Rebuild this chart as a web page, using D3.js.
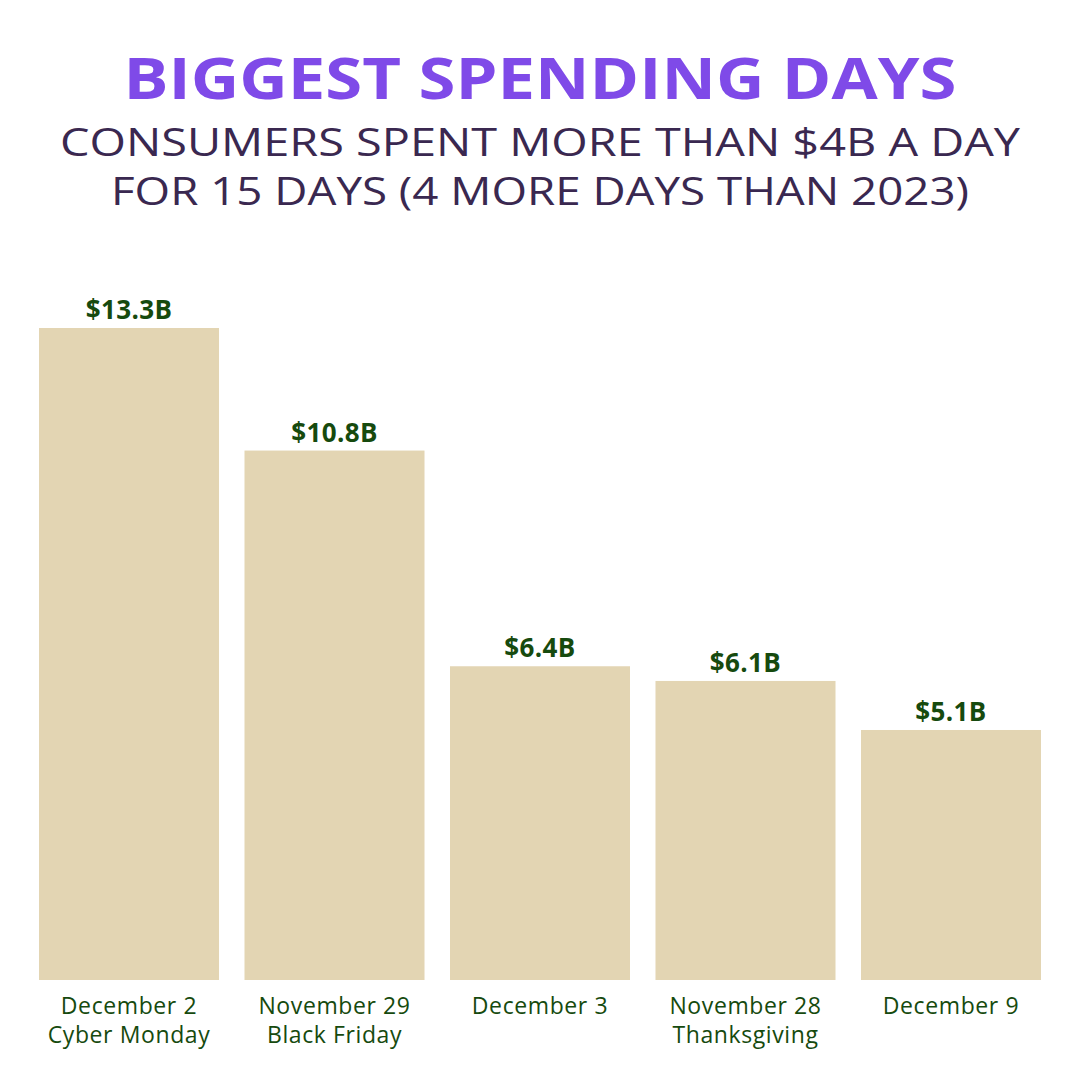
<!DOCTYPE html>
<html>
<head>
<meta charset="utf-8">
<script src="https://cdn.jsdelivr.net/npm/d3@7"></script>
<style>
  body { margin: 0; background: #fff; }
  svg { display: block; }
</style>
</head>
<body>
<script>
  // chart data
  const days = ["December 2", "November 29", "December 3", "November 28", "December 9"];
  const events = ["Cyber Monday", "Black Friday", "", "Thanksgiving", ""];
  const spend = [13.3, 10.8, 6.4, 6.1, 5.1];
  const spendLabels = ["$13.3B", "$10.8B", "$6.4B", "$6.1B", "$5.1B"];

  const W = 1080, H = 1080;
  const font = "'Open Sans', 'DejaVu Sans', sans-serif";

  const svg = d3.select("body").append("svg")
    .attr("width", W)
    .attr("height", H);

  svg.append("rect").attr("width", W).attr("height", H).attr("fill", "#fff");

  // title block
  svg.append("text")
    .attr("x", 540).attr("y", 99)
    .attr("text-anchor", "middle")
    .attr("textLength", 833).attr("lengthAdjust", "spacingAndGlyphs")
    .style("font-family", font).style("font-weight", 700).style("font-size", "57px")
    .attr("fill", "#7f4ae8")
    .text("BIGGEST SPENDING DAYS");

  svg.append("text")
    .attr("x", 540).attr("y", 156)
    .attr("text-anchor", "middle")
    .attr("textLength", 960).attr("lengthAdjust", "spacingAndGlyphs")
    .style("font-family", font).style("font-size", "39px")
    .attr("fill", "#3a2850")
    .text("CONSUMERS SPENT MORE THAN $4B A DAY");

  svg.append("text")
    .attr("x", 540).attr("y", 205)
    .attr("text-anchor", "middle")
    .attr("textLength", 858).attr("lengthAdjust", "spacingAndGlyphs")
    .style("font-family", font).style("font-size", "39px")
    .attr("fill", "#3a2850")
    .text("FOR 15 DAYS (4 MORE DAYS THAN 2023)");

  // scales
  const x = d3.scaleBand()
    .domain(days)
    .range([39, 1041])
    .paddingInner(0.124);

  const y = d3.scaleLinear()
    .domain([0, 13.3])
    .range([980, 328]);

  // bars
  svg.selectAll(".bar")
    .data(spend)
    .enter()
    .append("rect")
    .attr("class", "bar")
    .attr("x", (d, i) => x(days[i]))
    .attr("y", d => y(d))
    .attr("width", x.bandwidth())
    .attr("height", d => y(0) - y(d))
    .attr("fill", "#e3d5b3");

  // value labels
  svg.selectAll(".val")
    .data(spend)
    .enter()
    .append("text")
    .attr("class", "val")
    .attr("x", (d, i) => x(days[i]) + x.bandwidth() / 2)
    .attr("y", d => y(d) - 9)
    .attr("text-anchor", "middle")
    .style("font-family", font).style("font-weight", 700).style("font-size", "26px")
    .style("letter-spacing", "0.4px")
    .attr("fill", "#164a0e")
    .text((d, i) => spendLabels[i]);

  // category labels, two lines
  const cat = svg.selectAll(".cat")
    .data(days)
    .enter()
    .append("g")
    .attr("class", "cat")
    .attr("transform", d => "translate(" + (x(d) + x.bandwidth() / 2) + ",0)");

  cat.append("text")
    .attr("y", 1014)
    .attr("text-anchor", "middle")
    .style("font-family", font).style("font-size", "23px")
    .style("letter-spacing", "0.6px")
    .attr("fill", "#164a0e")
    .text(d => d);

  cat.append("text")
    .attr("y", 1043)
    .attr("text-anchor", "middle")
    .style("font-family", font).style("font-size", "23px")
    .style("letter-spacing", "0.6px")
    .attr("fill", "#164a0e")
    .text((d, i) => events[i]);
</script>
</body>
</html>
